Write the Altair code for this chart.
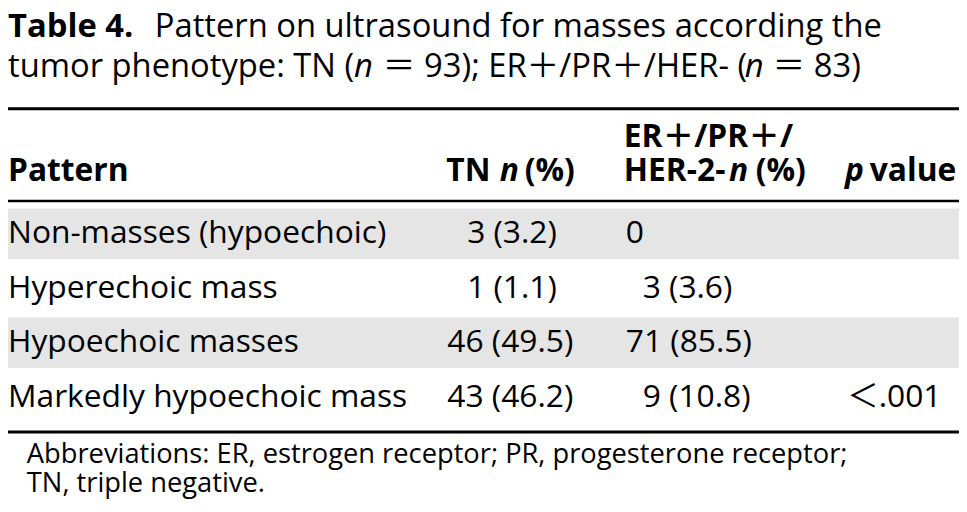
import altair as alt
import pandas as pd

title_label = "Table 4."
title_line1 = "Pattern on ultrasound for masses according the"
title_line2_parts = ["tumor phenotype: TN (", "n", "＝ 93); ER＋/PR＋/HER- (", "n", "＝ 83)"]

header_pattern = "Pattern"
header_tn = ["TN", "n", "(%)"]
header_er_top = "ER＋/PR＋/"
header_er = ["HER-2-", "n", "(%)"]
header_p = ["p", "value"]

patterns = ["Non-masses (hypoechoic)", "Hyperechoic mass", "Hypoechoic masses", "Markedly hypoechoic mass"]
tn_n = [3, 1, 46, 43]
tn_pct = [3.2, 1.1, 49.5, 46.2]
er_n = [0, 3, 71, 9]
er_pct = [None, 3.6, 85.5, 10.8]
p_values = ["", "", "", "＜.001"]
shaded = [True, False, True, False]

footnote_lines = [
    "Abbreviations: ER, estrogen receptor; PR, progesterone receptor;",
    "TN, triple negative.",
]

# ---------------- layout / style ----------------
W, H = 959, 496
FONT = "'Open Sans', 'Noto Sans CJK JP', sans-serif"
BODY = 32
TITLE = 33
FOOT = 27.5
BAND = "#e5e5e5"
INK = "#000000"


def fmt(n, pct):
    return str(n) if pct is None else f"{n} ({pct})"


def padded(n, pct):
    # single-digit counts with a percentage are indented by one digit in the table
    return pct is not None and n < 10


rows = pd.DataFrame({
    "pattern": patterns,
    "tn": [fmt(n, p) for n, p in zip(tn_n, tn_pct)],
    "tn_pad": [padded(n, p) for n, p in zip(tn_n, tn_pct)],
    "er": [fmt(n, p) for n, p in zip(er_n, er_pct)],
    "er_pad": [padded(n, p) for n, p in zip(er_n, er_pct)],
    "p": p_values,
    "shaded": shaded,
})

yscale = alt.Scale(type="point", domain=patterns, range=[235, 400], padding=0)
Y = alt.Y("pattern:N", scale=yscale, axis=None)


def label(text, x, y, size=BODY, weight="normal", style="normal"):
    return alt.Chart(pd.DataFrame({"t": [text]})).mark_text(
        font=FONT, fontSize=size, fontWeight=weight, fontStyle=style,
        align="left", baseline="alphabetic", color=INK,
    ).encode(text="t:N", x=alt.value(x), y=alt.value(y))


def hrule(y, w):
    return alt.Chart(pd.DataFrame({"k": [0]})).mark_rule(
        color=INK, strokeWidth=w, strokeCap="butt"
    ).encode(x=alt.value(0), x2=alt.value(W), y=alt.value(y))


def cells(df, field, x):
    return alt.Chart(df).mark_text(
        font=FONT, fontSize=BODY, align="left", baseline="alphabetic", color=INK
    ).encode(y=Y, x=alt.value(x), text=f"{field}:N")


layers = []

# shaded row bands
layers.append(
    alt.Chart(rows[rows["shaded"]]).mark_rule(
        color=BAND, strokeWidth=51, strokeCap="butt", yOffset=-9.5
    ).encode(y=Y, x=alt.value(0), x2=alt.value(W))
)

# rules
layers += [hrule(99.5, 3), hrule(192.5, 2.5), hrule(425.5, 3)]

# title
layers.append(label(title_label, 0, 27, TITLE, "bold"))
layers.append(label(title_line1, 148, 27, TITLE))
t2_x = [0, 349, 378, 743, 771]
t2_style = ["normal", "italic", "normal", "italic", "normal"]
for txt, x, st in zip(title_line2_parts, t2_x, t2_style):
    layers.append(label(txt, x, 67, TITLE, "normal", st))

# column headers
layers.append(label(header_pattern, 0, 172, BODY, "bold"))
for txt, x, st in zip(header_tn, [442, 496, 521], ["normal", "italic", "normal"]):
    layers.append(label(txt, x, 172, BODY, "bold", st))
layers.append(label(header_er_top, 621, 138, BODY, "bold"))
for txt, x, st in zip(header_er, [621, 727, 754], ["normal", "italic", "normal"]):
    layers.append(label(txt, x, 172, BODY, "bold", st))
for txt, x, st in zip(header_p, [844, 869], ["italic", "normal"]):
    layers.append(label(txt, x, 172, BODY, "bold", st))

# body cells
layers.append(cells(rows, "pattern", 0))
layers.append(cells(rows[~rows["tn_pad"]], "tn", 443))
layers.append(cells(rows[rows["tn_pad"]], "tn", 463))
layers.append(cells(rows[~rows["er_pad"]], "er", 623))
layers.append(cells(rows[rows["er_pad"]], "er", 640))
layers.append(cells(rows, "p", 846))

# footnote
layers.append(label(footnote_lines[0], 19, 457, FOOT))
layers.append(label(footnote_lines[1], 19, 486, FOOT))

chart = alt.layer(*layers).properties(
    width=W, height=H, padding=0, autosize="none", background="white"
).configure_view(stroke=None)

chart.save("out.html", embed_options={"renderer": "svg", "actions": False})
